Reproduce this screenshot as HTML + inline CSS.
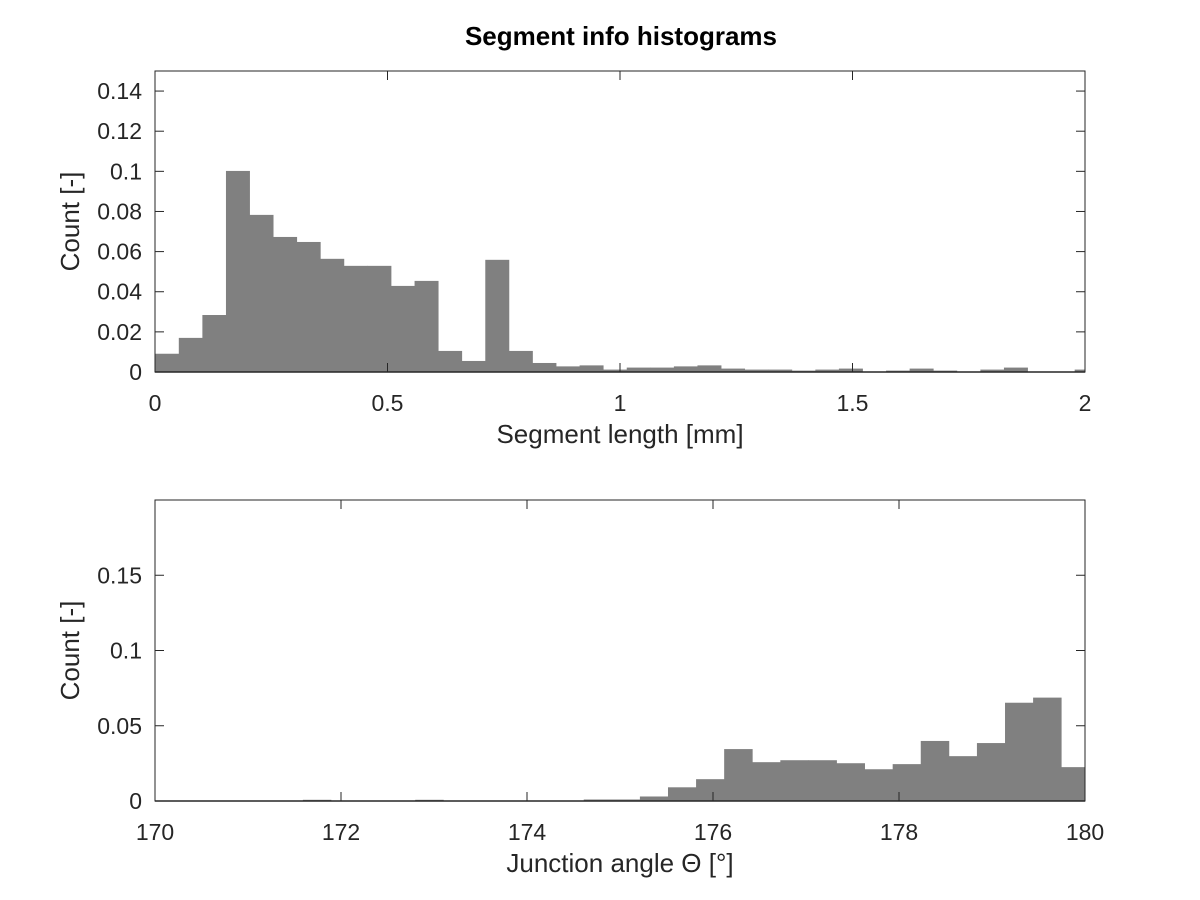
<!DOCTYPE html>
<html><head><meta charset="utf-8"><style>
html,body{margin:0;padding:0;background:#fff}
svg{display:block}
text{font-family:"Liberation Sans",sans-serif;fill:#262626}
</style></head><body>
<svg id="chart" width="1200" height="900" viewBox="0 0 1200 900">
<text x="621" y="45" text-anchor="middle" font-size="26" font-weight="bold" style="fill:#000">Segment info histograms</text>
<g id="top"></g>
<g id="bot"></g>
</svg>
<script>
const lenValues=[0.0091,0.017,0.0284,0.1002,0.0783,0.0673,0.0648,0.0564,0.0529,0.0529,0.0429,0.0454,0.0105,0.0055,0.0559,0.0105,0.0045,0.0028,0.0033,0.0012,0.0022,0.0022,0.0028,0.0033,0.0017,0.0012,0.0012,0.0007,0.0012,0.0017,0.0002,0.0007,0.0017,0.0007,0.0002,0.0012,0.0022,0,0,0.0012];
const lenBinStart=0.0005, lenBinWidth=0.0507;
const lenXTicks=[0,0.5,1,1.5,2];
const lenYTicks=[0,0.02,0.04,0.06,0.08,0.1,0.12,0.14];
const lenYTickLabels=["0","0.02","0.04","0.06","0.08","0.1","0.12","0.14"];
const angValues=[0,0,0,0,0,0.0008,0,0,0,0.0008,0,0,0,0,0,0.001,0.001,0.003,0.0091,0.0145,0.0345,0.0258,0.0271,0.0271,0.0251,0.0211,0.0245,0.0399,0.0298,0.0385,0.0653,0.0687,0.0225];
const angBinStart=170.08, angBinWidth=0.302;
const angXTicks=[170,172,174,176,178,180];
const angYTicks=[0,0.05,0.1,0.15];
const angYTickLabels=["0","0.05","0.1","0.15"];
const NS="http://www.w3.org/2000/svg";
function mk(tag,attrs,parent){const e=document.createElementNS(NS,tag);for(const k in attrs)e.setAttribute(k,attrs[k]);parent.appendChild(e);return e;}
function panel(g,cfg){
  const L=155,R=1085,T=cfg.top,B=cfg.bottom;
  const xs=v=>L+(v-cfg.xmin)/(cfg.xmax-cfg.xmin)*(R-L);
  const ys=v=>B-(v-0)/cfg.ymax*(B-T);
  cfg.values.forEach((v,i)=>{
    let x0=cfg.binStart+i*cfg.binWidth,x1=x0+cfg.binWidth;
    x0=Math.max(x0,cfg.xmin);x1=Math.min(x1,cfg.xmax);
    if(x1<=x0)return;
    const r=mk('rect',{x:xs(x0),y:ys(v),width:xs(x1)-xs(x0)+0.4,height:B-ys(v),fill:'#808080'},g);
    
    
  });
  const ax=mk('g',{},g);
  
  
  mk('rect',{x:L,y:T,width:R-L,height:B-T,fill:'none',stroke:'#262626','stroke-width':1},ax);
  mk('line',{x1:L,y1:B,x2:R,y2:B,stroke:'#262626','stroke-width':1.5},ax);
  cfg.xticks.forEach(t=>{
    const x=xs(t);
    mk('line',{x1:x,y1:B,x2:x,y2:B-9,stroke:'#262626'},ax);
    mk('line',{x1:x,y1:T,x2:x,y2:T+9,stroke:'#262626'},ax);
    const tx=mk('text',{x:x,y:B+39,'text-anchor':'middle','font-size':23},g);
    tx.textContent=String(t);
    
    
  });
  cfg.yticks.forEach((t,i)=>{
    const y=ys(t);
    mk('line',{x1:L,y1:y,x2:L+9,y2:y,stroke:'#262626'},ax);
    mk('line',{x1:R,y1:y,x2:R-9,y2:y,stroke:'#262626'},ax);
    const tx=mk('text',{x:L-13,y:y+8,'text-anchor':'end','font-size':23},g);
    tx.textContent=cfg.ylabels[i];
    
    
  });
  const xl=mk('text',{x:620,y:B+71,'text-anchor':'middle','font-size':26},g);
  xl.textContent=cfg.xlabel;
  
  
  const yl=mk('text',{x:0,y:0,'text-anchor':'middle','font-size':26,transform:`translate(79,${(T+B)/2}) rotate(-90)`},g);
  yl.textContent='Count [-]';
  
  
}
panel(document.getElementById('top'),{top:71,bottom:372,xmin:0,xmax:2,ymax:0.15,values:lenValues,binStart:lenBinStart,binWidth:lenBinWidth,xticks:lenXTicks,yticks:lenYTicks,ylabels:lenYTickLabels,xlabel:'Segment length [mm]'});
panel(document.getElementById('bot'),{top:500,bottom:801,xmin:170,xmax:180,ymax:0.2,values:angValues,binStart:angBinStart,binWidth:angBinWidth,xticks:angXTicks,yticks:angYTicks,ylabels:angYTickLabels,xlabel:'Junction angle \u0398 [\u00b0]'});
</script>
</body></html>
